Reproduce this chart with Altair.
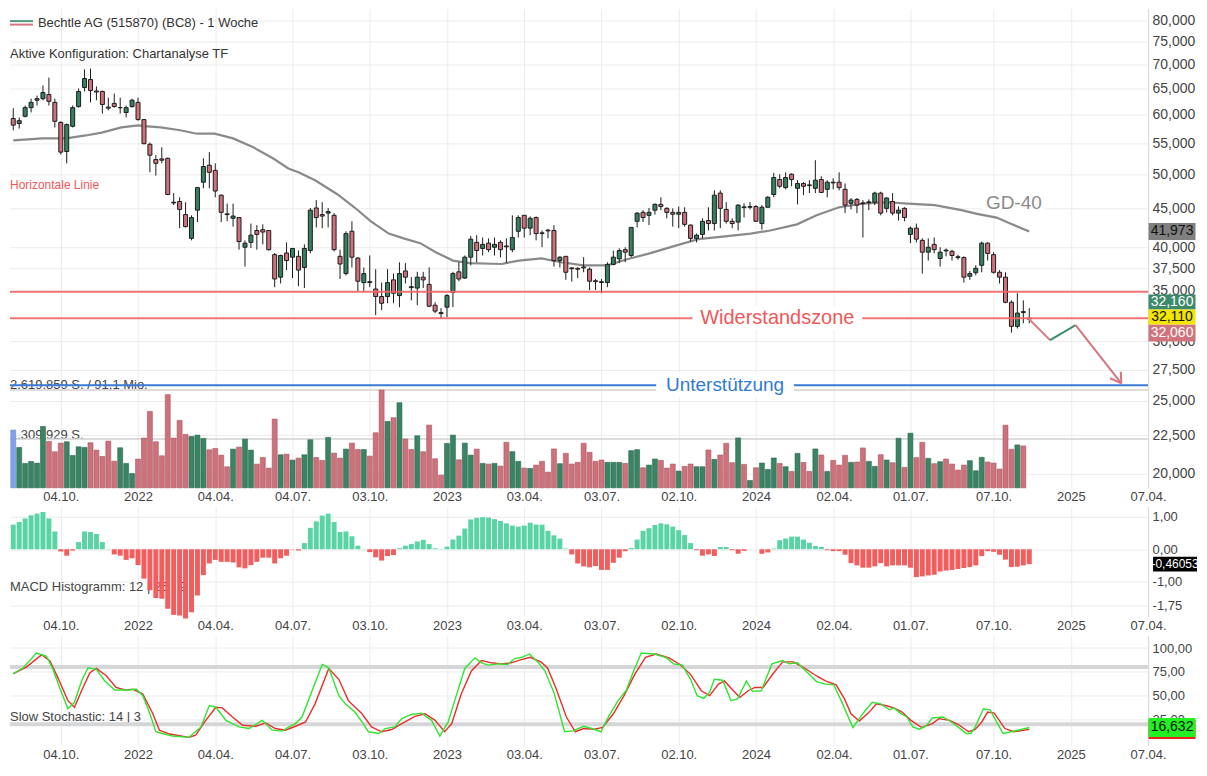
import altair as alt
import pandas as pd

FONT = "Liberation Sans"
START = "2021-08-09"  # Monday of the first weekly candle

# ---------------- weekly candles (EUR) ----------------
opens = [59.3, 58.4, 59.7, 61.3, 62.7, 63.0, 63.8, 62.3, 58.6, 53.6,
         57.9, 61.5, 65.2, 66.8, 64.5, 64.4, 61.4, 62.1, 61.3, 60.4,
         61.5, 62.3, 59.1, 54.8, 52.3, 52.4, 52.5, 45.9, 46.0, 44.2,
         41.1, 44.8, 48.8, 51.4, 50.6, 46.9, 44.3, 43.7, 43.8, 40.0,
         40.6, 42.1, 42.2, 42.1, 39.1, 36.5, 39.3, 38.8, 38.9, 37.6,
         39.6, 45.1, 44.2, 44.4, 44.1, 38.9, 36.9, 42.0, 38.7, 35.9,
         36.0, 35.2, 34.4, 34.4, 36.2, 34.5, 37.2, 35.45, 35.3, 36.5,
         35.7, 33.5, 32.75, 33.3, 34.85, 37.1, 36.4, 38.8, 40.6, 39.85,
         40.5, 40.0, 40.6, 40.15, 39.7, 42.0, 44.1, 42.4, 43.8, 41.8,
         42.15, 42.1, 38.4, 38.9, 37.55, 37.5, 37.65, 37.4, 36.1, 36.0,
         35.9, 37.95, 38.6, 39.7, 39.0, 43.3, 44.5, 44.1, 44.8, 45.6,
         45.05, 44.5, 44.25, 44.5, 42.8, 41.1, 41.6, 43.4, 43.0, 47.2,
         44.9, 43.3, 43.2, 45.25, 45.2, 45.3, 43.0, 45.2, 47.0, 49.2,
         48.0, 50.0, 47.9, 48.6, 48.4, 47.9, 49.2, 47.75, 48.8, 48.8,
         47.75, 45.75, 46.3, 45.8, 45.85, 45.9, 47.2, 45.05, 46.0, 44.4,
         45.05, 41.6, 42.4, 40.85, 39.4, 40.35, 38.65, 39.65, 39.5, 38.85,
         38.75, 36.6, 37.0, 37.85, 40.5, 39.1, 37.05, 36.5, 33.8, 31.4,
         32.85, 32.2]
highs = [61.2, 59.5, 61.7, 63.0, 63.6, 65.6, 67.2, 63.0, 58.8, 58.4,
         61.7, 65.0, 68.9, 69.1, 65.4, 64.6, 63.2, 64.0, 63.2, 61.7,
         63.0, 63.2, 59.1, 55.1, 53.0, 54.3, 52.6, 47.2, 46.6, 45.9,
         44.1, 48.0, 52.5, 53.5, 51.7, 47.0, 45.7, 45.7, 43.8, 40.85,
         43.0, 42.8, 42.9, 42.1, 39.3, 39.1, 40.6, 39.85, 39.6, 40.35,
         45.1, 46.2, 45.9, 45.1, 44.4, 39.7, 42.0, 43.3, 38.8, 37.6,
         39.0, 37.4, 35.9, 37.4, 36.9, 38.2, 38.1, 36.5, 37.1, 37.1,
         37.6, 33.8, 33.2, 34.65, 37.1, 38.2, 39.0, 41.4, 41.5, 41.2,
         41.1, 41.2, 40.85, 41.1, 44.1, 44.1, 44.1, 43.95, 43.95, 42.1,
         42.3, 42.8, 38.9, 38.9, 37.6, 37.6, 38.8, 37.6, 36.3, 36.3,
         38.2, 39.6, 39.85, 40.0, 42.5, 44.5, 44.8, 45.1, 45.75, 46.6,
         45.2, 45.05, 45.3, 45.2, 42.9, 41.7, 43.7, 45.2, 47.6, 47.6,
         45.9, 43.7, 45.6, 45.75, 45.9, 45.5, 45.5, 46.75, 50.2, 50.0,
         50.3, 50.15, 49.1, 48.8, 49.1, 52.2, 49.7, 49.1, 49.4, 50.3,
         48.6, 46.5, 46.5, 46.2, 46.3, 47.4, 47.4, 46.6, 47.2, 45.3,
         45.2, 42.6, 43.0, 41.1, 41.1, 41.2, 40.0, 39.85, 39.7, 39.1,
         38.9, 37.2, 37.85, 40.7, 40.6, 39.4, 37.3, 37.05, 34.0, 34.75,
         34.0, 33.2]
lows = [57.2, 57.5, 59.5, 60.4, 61.7, 62.7, 61.7, 57.7, 53.1, 51.7,
        57.7, 61.3, 64.4, 62.3, 62.7, 60.2, 60.8, 61.3, 60.2, 59.5,
        61.3, 58.9, 54.8, 50.3, 49.8, 51.7, 46.9, 45.5, 42.4, 42.5,
        40.85, 43.2, 47.9, 47.9, 46.6, 43.2, 43.3, 42.6, 39.7, 37.7,
        39.9, 39.7, 40.35, 39.6, 35.4, 35.8, 37.3, 36.4, 35.5, 35.3,
        39.25, 42.5, 42.4, 42.5, 39.5, 36.3, 36.7, 37.6, 34.96, 35.0,
        35.4, 32.5, 33.0, 33.7, 33.7, 33.3, 35.8, 34.0, 33.5, 35.3,
        33.3, 32.7, 32.2, 32.3, 33.3, 36.05, 36.3, 37.85, 38.2, 39.0,
        39.4, 39.0, 38.8, 38.1, 39.4, 41.2, 41.2, 41.5, 40.85, 40.0,
        41.1, 37.7, 37.6, 36.2, 36.0, 36.4, 37.05, 35.07, 35.1, 34.75,
        35.4, 37.85, 38.1, 38.2, 38.8, 42.5, 43.2, 42.8, 44.2, 44.8,
        43.7, 42.6, 42.4, 42.6, 40.7, 40.6, 41.1, 42.1, 42.1, 42.4,
        43.0, 42.4, 42.1, 43.8, 44.9, 43.2, 42.2, 45.2, 46.6, 47.9,
        47.75, 48.2, 45.6, 46.9, 47.2, 47.2, 47.2, 46.6, 47.75, 47.6,
        44.4, 44.9, 44.4, 41.2, 44.8, 45.5, 44.1, 44.5, 44.1, 43.4,
        43.3, 40.5, 40.6, 36.9, 38.4, 39.25, 37.7, 38.9, 38.4, 38.5,
        35.9, 36.2, 36.7, 37.05, 38.4, 36.9, 35.8, 33.7, 30.8, 31.2,
        31.7, 31.7]
closes = [58.1, 58.9, 61.3, 62.3, 63.0, 64.2, 62.5, 58.8, 53.5, 58.2,
          61.3, 64.4, 67.0, 64.6, 64.3, 61.9, 61.2, 61.5, 61.3, 61.3,
          62.7, 59.1, 54.9, 53.0, 51.7, 52.2, 47.0, 45.8, 44.9, 42.6,
          43.8, 48.0, 51.2, 50.3, 47.5, 44.5, 44.2, 44.0, 40.7, 40.5,
          41.5, 41.6, 41.9, 39.7, 36.3, 39.0, 38.4, 39.85, 37.3, 39.85,
          44.8, 43.8, 44.0, 44.6, 39.7, 38.0, 41.7, 38.8, 36.05, 36.9,
          35.9, 34.4, 33.7, 35.9, 34.75, 36.9, 36.5, 35.35, 36.5, 36.2,
          33.4, 32.9, 32.65, 34.5, 36.9, 36.3, 38.8, 41.0, 39.6, 40.35,
          39.7, 40.35, 39.7, 40.05, 41.2, 43.8, 42.4, 43.7, 41.7, 41.7,
          42.05, 38.4, 38.8, 37.05, 37.45, 37.4, 37.55, 36.05, 36.0, 35.9,
          37.95, 38.8, 39.6, 39.4, 42.5, 44.4, 43.8, 44.5, 45.6, 45.3,
          44.5, 44.25, 44.5, 42.9, 41.1, 41.5, 43.3, 43.0, 46.9, 45.05,
          43.3, 43.0, 45.5, 45.15, 45.3, 43.3, 45.2, 46.6, 49.5, 48.2,
          49.5, 49.2, 48.6, 48.2, 48.3, 49.1, 47.3, 48.8, 48.7, 48.0,
          45.5, 46.2, 45.5, 45.7, 45.95, 47.2, 44.4, 46.5, 44.4, 44.8,
          43.8, 42.4, 41.0, 39.4, 40.0, 39.7, 39.4, 39.55, 39.0, 38.75,
          36.5, 36.9, 37.5, 40.5, 39.25, 37.05, 36.5, 33.8, 31.4, 32.7,
          32.75, 32.11]

# weekly volume in million shares (last week: no bar yet)
volume_mio = [1.547, 1.082, 0.653, 0.706, 0.662, 1.645, 1.243, 0.966, 1.198, 1.234,
              0.867, 1.100, 1.082, 1.207, 1.010, 0.841, 1.252, 0.715, 1.073, 0.653,
              0.385, 0.769, 1.332, 2.048, 1.234, 0.858, 2.495, 1.332, 1.806, 1.431,
              1.377, 1.413, 1.323, 1.019, 1.055, 0.876, 0.563, 1.037, 1.091, 1.306,
              1.010, 0.635, 0.814, 0.528, 1.842, 0.885, 0.903, 0.742, 0.796, 0.885,
              1.288, 0.814, 0.733, 1.350, 0.930, 0.796, 1.037, 1.198, 1.028, 1.028,
              0.849, 1.475, 2.620, 1.779, 1.878, 2.280, 1.306, 1.028, 1.395, 0.966,
              1.681, 0.778, 0.340, 1.189, 1.413, 0.751, 1.198, 0.876, 1.037, 0.655,
              0.637, 0.655, 0.583, 1.220, 0.969, 0.709, 0.529, 0.520, 0.610, 0.709,
              0.422, 1.041, 0.646, 0.924, 0.637, 0.682, 1.193, 0.951, 0.709, 0.745,
              0.682, 0.682, 0.682, 0.655, 0.996, 1.023, 0.538, 0.610, 0.772, 0.736,
              0.529, 0.637, 0.449, 0.574, 0.637, 0.565, 0.565, 1.014, 0.763, 0.879,
              1.193, 0.673, 1.337, 0.628, 0.197, 0.538, 0.664, 0.494, 0.799, 0.655,
              0.565, 0.440, 0.924, 0.682, 0.440, 1.041, 0.879, 0.440, 0.736, 0.610,
              0.870, 0.682, 0.691, 1.068, 0.709, 0.574, 0.888, 0.745, 0.673, 1.328,
              0.547, 1.463, 0.808, 1.220, 0.790, 0.646, 0.700, 0.772, 0.637, 0.476,
              0.610, 0.727, 0.458, 0.817, 0.691, 0.664, 0.502, 1.678, 1.032, 1.149,
              1.122, None]

macd_hist = [0.76, 0.84, 0.95, 1.05, 1.10, 1.15, 0.95, 0.55, -0.07, -0.20,
             -0.04, 0.22, 0.55, 0.53, 0.47, 0.22, 0.01, -0.16, -0.20, -0.33,
             -0.28, -0.49, -0.91, -1.27, -1.51, -1.53, -1.84, -2.03, -2.05, -2.14,
             -1.95, -1.43, -0.80, -0.44, -0.33, -0.39, -0.39, -0.41, -0.56, -0.59,
             -0.49, -0.39, -0.26, -0.26, -0.44, -0.28, -0.20, -0.01, -0.04, 0.19,
             0.66, 0.86, 1.04, 1.10, 0.84, 0.53, 0.55, 0.40, 0.11, 0.01,
             -0.09, -0.25, -0.35, -0.21, -0.18, 0.03, 0.11, 0.16, 0.24, 0.29,
             0.16, 0.03, 0.01, 0.08, 0.30, 0.42, 0.64, 0.92, 0.97, 0.99,
             0.98, 0.93, 0.875, 0.80, 0.73, 0.70, 0.73, 0.82, 0.76, 0.76,
             0.57, 0.43, 0.33, 0.02, -0.16, -0.44, -0.53, -0.56, -0.52, -0.64,
             -0.64, -0.42, -0.26, -0.06, 0.04, 0.30, 0.57, 0.65, 0.75, 0.80,
             0.77, 0.70, 0.59, 0.44, 0.19, -0.03, -0.20, -0.16, -0.21, 0.07,
             0.07, -0.03, -0.14, -0.05, 0.0, 0.0, -0.14, -0.10, 0.02, 0.28,
             0.33, 0.39, 0.39, 0.30, 0.20, 0.10, 0.07, -0.03, -0.06, -0.06,
             -0.17, -0.43, -0.50, -0.57, -0.57, -0.53, -0.43, -0.53, -0.50, -0.50,
             -0.50, -0.57, -0.86, -0.84, -0.81, -0.79, -0.69, -0.66, -0.64, -0.61,
             -0.58, -0.55, -0.50, -0.21, -0.06, -0.08, -0.17, -0.32, -0.55, -0.54,
             -0.50, -0.46053]

# GD-40 (40-week average): week position, value
gd40_pos = [0, 4.9, 8.9, 12.2, 14.9, 18.2, 21.0, 22.6, 24.8, 28.1, 30.9, 33.9, 37.0,
            40.4, 43.7, 46.3, 48.0, 50.8, 54.6, 57.4, 60.2, 63.2, 65.7, 68.5, 71.1,
            74.0, 76.8, 82.2, 85.1, 88.9, 92.2, 96.0, 100.0, 103.3, 107.1, 111.5,
            115.3, 119.8, 124.1, 127.4, 131.9, 135.2, 139.0, 143.0, 147.3, 150.6,
            155.1, 159.6, 162.2, 165.5, 167.8, 171]
gd40_val = [55.45, 55.8, 55.8, 56.3, 56.8, 57.7, 58.05, 57.9, 57.7, 57.2, 56.6, 56.6,
            55.8, 54.3, 52.5, 50.9, 50.3, 49.1, 47.0, 45.2, 43.3, 41.7, 41.1, 40.5,
            39.4, 38.4, 38.1, 38.0, 38.4, 38.65, 38.2, 37.85, 37.85, 38.55, 39.25,
            40.2, 41.0, 41.35, 41.7, 42.1, 42.9, 44.1, 45.2, 45.7, 45.9, 45.7, 45.5,
            44.8, 44.3, 43.8, 43.0, 41.973]

# Slow stochastic 14|3: week position, value
stk_pos = [0, 1.7, 3.9, 5.6, 6.7, 7.8, 9.2, 10.3, 11.5, 12.6, 14.0, 15.4, 17.1, 19.6,
           20.7, 21.8, 22.9, 24.0, 25.1, 26.8, 29.6, 31.6, 33.0, 34.1, 35.8, 38.0,
           39.7, 41.9, 43.6, 45.3, 46.4, 47.5, 48.6, 50.3, 52.0, 53.1, 54.8, 55.9,
           57.5, 58.7, 59.8, 61.5, 62.6, 64.2, 65.4, 67.0, 68.7, 70.4, 71.8, 73.2,
           74.3, 76.0, 77.7, 78.8, 79.9, 81.6, 83.2, 84.4, 85.6, 86.9, 88.4, 89.5,
           91.0, 92.8, 94.2, 96.0, 97.4, 98.9, 100.3, 101.8, 103.2, 104.3, 105.7,
           107.9, 110.0, 111.1, 112.6, 114.0, 115.1, 116.2, 117.2, 118.0, 119.4,
           120.8, 121.9, 123.4, 124.4, 125.9, 127.7, 129.5, 130.6, 132.0, 133.4,
           135.2, 136.7, 138.1, 139.6, 141.3, 142.4, 143.5, 144.6, 146.0, 147.5,
           148.2, 149.3, 150.4, 151.4, 152.5, 153.6, 154.7, 156.5, 157.9, 159.0,
           160.4, 161.2, 161.9, 163.3, 164.4, 165.5, 166.6, 168.0, 171.0]
stk_val = [73.1, 79.3, 94.8, 91.4, 77.6, 58.6, 36.2, 43.1, 65.5, 79.3, 77.6, 65.5, 55.9,
           55.9, 56.9, 50.0, 32.8, 12.1, 10.3, 7.6, 6.2, 17.2, 39.7, 37.9, 24.1, 17.2,
           15.5, 24.1, 13.8, 12.8, 17.2, 20.7, 27.6, 55.2, 82.8, 79.3, 50.0, 41.4,
           32.8, 22.4, 12.1, 10.3, 15.5, 17.2, 25.9, 30.3, 31.7, 24.1, 7.6, 22.4,
           44.8, 78.6, 89.7, 84.5, 82.1, 83.4, 82.8, 89.0, 90.3, 93.8, 84.5, 75.9,
           53.4, 12.1, 13.1, 17.9, 15.5, 12.1, 29.3, 44.8, 55.9, 74.1, 94.8, 93.8,
           89.7, 83.4, 82.1, 67.2, 50.0, 47.2, 53.4, 67.2, 66.2, 44.8, 46.6, 65.5,
           54.5, 55.2, 83.4, 86.9, 83.4, 84.5, 75.9, 64.8, 62.1, 61.4, 41.4, 16.6,
           25.9, 35.2, 43.1, 41.4, 35.2, 37.2, 31.7, 27.6, 17.2, 14.8, 17.9, 26.6,
           27.6, 22.4, 17.2, 10.3, 10.3, 17.2, 36.2, 35.2, 22.4, 10.3, 12.1, 16.632]
std_pos = [0, 2.2, 4.8, 6.2, 7.5, 9.2, 10.3, 11.5, 12.9, 14.0, 15.7, 17.3, 19.0, 20.1,
           21.8, 23.5, 24.6, 26.3, 29.6, 30.7, 32.4, 34.1, 35.2, 36.9, 38.6, 40.8,
           42.5, 44.1, 45.8, 47.5, 49.2, 50.8, 53.1, 54.8, 56.4, 58.7, 60.3, 62.0,
           63.7, 65.4, 67.6, 69.3, 71.0, 72.6, 73.8, 75.4, 77.1, 78.8, 80.5, 82.2,
           83.8, 85.5, 87.0, 88.8, 89.9, 91.3, 93.1, 94.6, 96.0, 97.8, 99.2, 101.0,
           102.8, 104.6, 106.4, 108.2, 110.4, 112.2, 114.0, 115.8, 117.2, 118.7,
           119.7, 121.2, 122.3, 123.7, 124.8, 126.2, 128.0, 129.5, 131.3, 133.1,
           135.2, 136.7, 138.5, 139.9, 141.0, 142.4, 143.9, 145.3, 146.8, 148.2,
           149.6, 151.1, 152.9, 154.7, 155.8, 157.6, 159.0, 160.8, 161.9, 163.0,
           164.0, 165.1, 166.9, 168.4, 171.0]
std_val = [73.1, 80.0, 93.1, 86.2, 69.0, 44.8, 37.9, 55.2, 74.1, 78.6, 70.7, 58.6, 55.9,
           56.9, 51.7, 31.0, 13.8, 9.7, 6.2, 8.6, 24.1, 37.9, 37.2, 27.6, 19.0, 17.9,
           21.4, 15.5, 13.8, 17.9, 22.4, 41.4, 78.6, 67.2, 44.8, 31.0, 17.2, 12.1,
           14.5, 20.7, 28.3, 31.0, 24.1, 12.1, 20.7, 51.7, 75.9, 86.9, 84.5, 83.4,
           84.5, 87.9, 90.3, 85.5, 79.3, 58.6, 27.6, 12.1, 15.5, 14.8, 16.6, 31.0,
           50.0, 72.4, 90.3, 93.8, 89.7, 82.8, 72.4, 55.2, 50.0, 62.1, 65.5, 55.2,
           48.3, 55.2, 58.6, 58.6, 74.1, 85.5, 85.5, 79.3, 70.7, 65.5, 61.4, 46.6,
           31.0, 23.4, 31.7, 41.4, 39.7, 37.2, 32.8, 24.1, 16.6, 20.7, 25.9, 24.1,
           20.0, 12.1, 14.5, 22.4, 32.8, 31.7, 15.5, 12.1, 14.6]

# drawn annotations (week position, price)
forecast_down1 = ([170.8, 174.5], [32.2, 30.11])
forecast_up = ([174.5, 178.8], [30.11, 31.52])
forecast_down2 = ([178.8, 186.5], [31.52, 26.38])
arrow_arm1 = ([184.6, 186.5], [26.79, 26.38])
arrow_arm2 = ([186.4, 186.5], [27.33, 26.38])
resistance_levels = [34.9, 32.2]
support_level = 26.22
volume_marks = [2.619859, 1.309929]

price_ticks = [20, 22.5, 25, 27.5, 30, 35, 37.5, 40, 45, 50, 55, 60, 65, 70, 75, 80]
macd_ticks = [-1.75, -1.0, 0.0, 1.0]
stoch_ticks = [25, 50, 75, 100]
x_tick_dates = [(2021, 10, 4), (2022, 1, 3), (2022, 4, 4), (2022, 7, 4), (2022, 10, 3),
                (2023, 1, 2), (2023, 4, 3), (2023, 7, 3), (2023, 10, 2), (2024, 1, 1),
                (2024, 4, 2), (2024, 7, 1), (2024, 10, 7), (2025, 1, 6), (2025, 4, 7)]

# ---------------- layout ----------------
W = 1140
H_MAIN, H_MACD, H_ST = 480, 110, 110
GREEN = "#35805f"
PINK = "#cf717c"
TXT = "#444444"


def wk(i):
    return (pd.Timestamp(START) + pd.Timedelta(days=7 * i)).strftime("%Y-%m-%dT%H:%M:%SZ")


n = len(closes)
candles = pd.DataFrame({
    "date": [wk(i) for i in range(n)],
    "open": opens, "high": highs, "low": lows, "close": closes,
    "vol": volume_mio, "macd": macd_hist,
})
candles["dir"] = ["up" if c >= o else "down" for o, c in zip(opens, closes)]
candles["vdir"] = candles["dir"]
candles.loc[0, "vdir"] = "flat"
vol_df = candles[candles["vol"].notna()]

x_scale = alt.Scale(type="utc", nice=False, padding=0,
                    domain=[alt.DateTime(year=2021, month=8, date=5, hours=4, utc=True),
                            alt.DateTime(year=2025, month=4, date=7, utc=True)])
x_axis = alt.Axis(values=[alt.DateTime(year=y, month=m, date=d, utc=True) for y, m, d in x_tick_dates],
                  labelExpr="utcFormat(datum.value, '%m') == '01' ? utcFormat(datum.value, '%Y') : utcFormat(datum.value, '%d.%m.')",
                  title=None, grid=True, gridColor="#ececec", ticks=False, domain=False,
                  labelPadding=3, labelFontSize=13, labelColor=TXT, labelFont=FONT,
                  labelOverlap=False, labelFlush=False, zindex=0)


def X(field):
    return alt.X(field, type="temporal", scale=x_scale, axis=x_axis)


def yaxis(values, expr, size=13):
    return alt.Axis(orient="right", values=values, labelExpr=expr, title=None, grid=True,
                    gridColor="#ececec", ticks=False, domain=True, domainColor="#d9d9d9",
                    labelPadding=4, labelFontSize=size, labelColor=TXT, labelFont=FONT,
                    labelOverlap=False, labelFlush=False, zindex=0)


price_scale = alt.Scale(type="log", domain=[19.163, 82.98], nice=False)
vol_scale = alt.Scale(domain=[0, 12.834], nice=False, zero=True)
macd_scale = alt.Scale(domain=[-2.083, 1.312], nice=False, zero=False)
st_scale = alt.Scale(domain=[-2.2, 113.1], nice=False, zero=False)

dummy = pd.DataFrame({"a": [0]})


def ptext(text, x, y, size=13, color=TXT, align="left"):
    return alt.Chart(dummy).mark_text(text=text, align=align, baseline="middle", fontSize=size,
                                      color=color, font=FONT).encode(x=alt.value(x), y=alt.value(y))


def box_path(w, h):
    r = h / w
    return f"M-1,{-r:.4f}L1,{-r:.4f}L1,{r:.4f}L-1,{r:.4f}Z"


def series(pos, val):
    return pd.DataFrame({"t": [wk(p) for p in pos], "v": val})


def value_box(value, label, fill, tcolor, scale, xc, w, h, yoff=0, size=14):
    d = pd.DataFrame({"v": [value], "label": [label]})
    base = alt.Chart(d).encode(x=alt.value(xc), y=alt.Y("v:Q", scale=scale, axis=None))
    rect = base.mark_point(shape=box_path(w, h), size=w * w, filled=True, color=fill,
                           opacity=1, strokeWidth=0, yOffset=yoff)
    txt = base.mark_text(align="center", baseline="middle", fontSize=size, color=tcolor,
                         font=FONT, yOffset=yoff).encode(text="label:N")
    return [rect, txt]


def white_box(pos, value, w, h):
    d = pd.DataFrame({"t": [wk(pos)], "v": [value]})
    return alt.Chart(d).mark_point(shape=box_path(w, h), size=w * w, filled=True, color="white",
                                   opacity=1, strokeWidth=0).encode(
        x=X("t:T"), y=alt.Y("v:Q", scale=price_scale, axis=None))


def label_at(pos, value, text, size, color):
    d = pd.DataFrame({"t": [wk(pos)], "v": [value]})
    return alt.Chart(d).mark_text(text=text, align="center", baseline="middle", fontSize=size,
                                  color=color, font=FONT).encode(
        x=X("t:T"), y=alt.Y("v:Q", scale=price_scale, axis=None))


def pline(pos, val, color, width=2):
    return alt.Chart(series(pos, val)).mark_line(color=color, strokeWidth=width).encode(
        x=X("t:T"), y=alt.Y("v:Q", scale=price_scale, axis=None))


# ---------------- main panel ----------------
vol_text1 = ptext("2.619.859 S. / 91,1 Mio.", 0, 377)
vol_text2 = ptext("1.309.929 S.", 0, 427)
vol_rules = alt.Chart(pd.DataFrame({"v": volume_marks})).mark_rule(color="#d2d2d2", strokeWidth=1.5).encode(
    y=alt.Y("v:Q", scale=vol_scale, axis=None))


def vol_layer(kind, color, stroke):
    return alt.Chart(vol_df[vol_df["vdir"] == kind]).mark_bar(size=5, color=color, stroke=stroke,
                                                             strokeWidth=0.6).encode(
        x=X("date:T"), y=alt.Y("vol:Q", scale=vol_scale, axis=None), y2=alt.datum(0))


vol_up = vol_layer("up", "#3a8464", "#2c6a50")
vol_down = vol_layer("down", "#cd717b", "#a95963")
vol_flat = vol_layer("flat", "#7fa3e6", "#6a8fd6")

ma_line = pline(gd40_pos, gd40_val, "#8a8a8a", 2.2)

wicks = alt.Chart(candles).mark_rule(color="#1c1c1c", strokeWidth=1).encode(
    x=X("date:T"),
    y=alt.Y("low:Q", scale=price_scale,
            axis=yaxis(price_ticks, "replace(format(datum.value, '.3f'), '.', ',')", 14)),
    y2="high:Q")


def body_layer(kind, color):
    return alt.Chart(candles[candles["dir"] == kind]).mark_bar(size=4, color=color, stroke="#1c1c1c",
                                                              strokeWidth=1).encode(
        x=X("date:T"), y=alt.Y("open:Q", scale=price_scale, axis=None), y2="close:Q")


bodies_up = body_layer("up", GREEN)
bodies_down = body_layer("down", PINK)

res_lines = alt.Chart(pd.DataFrame({"v": resistance_levels})).mark_rule(
    color="#f26565", strokeWidth=2, opacity=0.9).encode(y=alt.Y("v:Q", scale=price_scale, axis=None))
sup_line = alt.Chart(pd.DataFrame({"v": [support_level]})).mark_rule(
    color="#3a7bd5", strokeWidth=2).encode(y=alt.Y("v:Q", scale=price_scale, axis=None))

wb_res = white_box(128.6, resistance_levels[1], 170, 24)
wb_sup = white_box(119.8, support_level, 138, 24)
wb_gd = white_box(168.4, 45.75, 62, 20)
lbl_res = label_at(128.6, resistance_levels[1], "Widerstandszone", 20, "#f05757")
lbl_sup = label_at(119.8, support_level, "Unterstützung", 19, "#2f7bd5")
lbl_gd = label_at(168.4, 45.75, "GD-40", 19, "#8a8a8a")

fc1 = pline(*forecast_down1, "#d9737f", 2)
fc2 = pline(*forecast_up, "#3d8c6e", 2)
fc3 = pline(*forecast_down2, "#d9737f", 2)
fa1 = pline(*arrow_arm1, "#d9737f", 2)
fa2 = pline(*arrow_arm2, "#d9737f", 2)

boxes_main = (value_box(41.973, "41,973", "#808080", "#111111", price_scale, W + 24, 47, 17)
              + value_box(32.11, "32,160", "#3d8a6b", "white", price_scale, W + 24, 47, 15, yoff=-17)
              + value_box(32.11, "32,060", "#d0737d", "white", price_scale, W + 24, 47, 17, yoff=14)
              + value_box(32.11, "32,110", "#f2e600", "#111111", price_scale, W + 24, 47, 15, yoff=-2))

swatch_g = alt.Chart(dummy).mark_rule(color="#4f9a7b", strokeWidth=2).encode(
    x=alt.value(0), x2=alt.value(23), y=alt.value(12.5))
swatch_r = alt.Chart(dummy).mark_rule(color="#d9737f", strokeWidth=2).encode(
    x=alt.value(0), x2=alt.value(23), y=alt.value(16))
title_txt = ptext("Bechtle AG (515870) (BC8) - 1 Woche", 28, 14, 13, "#333333")
conf_txt = ptext("Aktive Konfiguration: Chartanalyse TF", 0, 45, 13, "#333333")
hl_txt = ptext("Horizontale Linie", 0, 177, 12, "#f05757")

main = alt.layer(
    vol_text1, vol_text2, vol_rules, vol_up, vol_down, vol_flat,
    ma_line, wicks, bodies_up, bodies_down,
    res_lines, sup_line, wb_res, wb_sup, wb_gd, lbl_res, lbl_sup, lbl_gd, hl_txt,
    fc1, fc2, fc3, fa1, fa2, *boxes_main,
    swatch_g, swatch_r, title_txt, conf_txt,
).resolve_scale(y="independent").properties(width=W, height=H_MAIN)

# ---------------- MACD panel ----------------
macd_label = ptext("MACD Histogramm: 12 | 26 | 9", 0, 80)
macd_pos = alt.Chart(candles[candles["macd"] >= 0]).mark_bar(size=5, color="#5ad3a5").encode(
    x=X("date:T"),
    y=alt.Y("macd:Q", scale=macd_scale,
            axis=yaxis(macd_ticks, "(datum.value < 0 ? '-' : '') + replace(format(abs(datum.value), '.2f'), '.', ',')")),
    y2=alt.datum(0))
macd_neg = alt.Chart(candles[candles["macd"] < 0]).mark_bar(size=5, color="#f25e5e").encode(
    x=X("date:T"), y=alt.Y("macd:Q", scale=macd_scale, axis=None), y2=alt.datum(0))
macd_box = value_box(macd_hist[-1], "-0,46053", "#000000", "white", macd_scale, W + 27, 44, 15, size=12)
macd = alt.layer(macd_label, macd_pos, macd_neg, *macd_box).resolve_scale(
    y="independent").properties(width=W, height=H_MACD)

# ---------------- Stochastic panel ----------------
st_label = ptext("Slow Stochastic: 14 | 3", 0, 82)
st_rules = alt.Chart(pd.DataFrame({"v": [80, 20]})).mark_rule(color="#d5d6d8", strokeWidth=4).encode(
    y=alt.Y("v:Q", scale=st_scale,
            axis=yaxis(stoch_ticks, "replace(format(datum.value, '.2f'), '.', ',')")),
    x=alt.value(0), x2=alt.value(W))
st_d = alt.Chart(series(std_pos, std_val)).mark_line(color="#ee2b2b", strokeWidth=1.4).encode(
    x=X("t:T"), y=alt.Y("v:Q", scale=st_scale, axis=None))
st_k = alt.Chart(series(stk_pos, stk_val)).mark_line(color="#2fe52f", strokeWidth=1.4).encode(
    x=X("t:T"), y=alt.Y("v:Q", scale=st_scale, axis=None))
st_box_d = value_box(std_val[-1], "", "#ee2020", "white", st_scale, W + 24, 47, 19)
st_box_k = value_box(stk_val[-1], "16,632", "#22f022", "#111111", st_scale, W + 24, 47, 19)
stoch = alt.layer(st_label, st_rules, st_d, st_k, st_box_d[0], *st_box_k).resolve_scale(
    y="independent").properties(width=W, height=H_ST)

chart = alt.vconcat(main, macd, stoch, spacing=3).properties(
    padding=0
).configure(font=FONT, padding=0).configure_view(stroke=None)

chart.save("out.html", embed_options={"renderer": "svg", "actions": False})
